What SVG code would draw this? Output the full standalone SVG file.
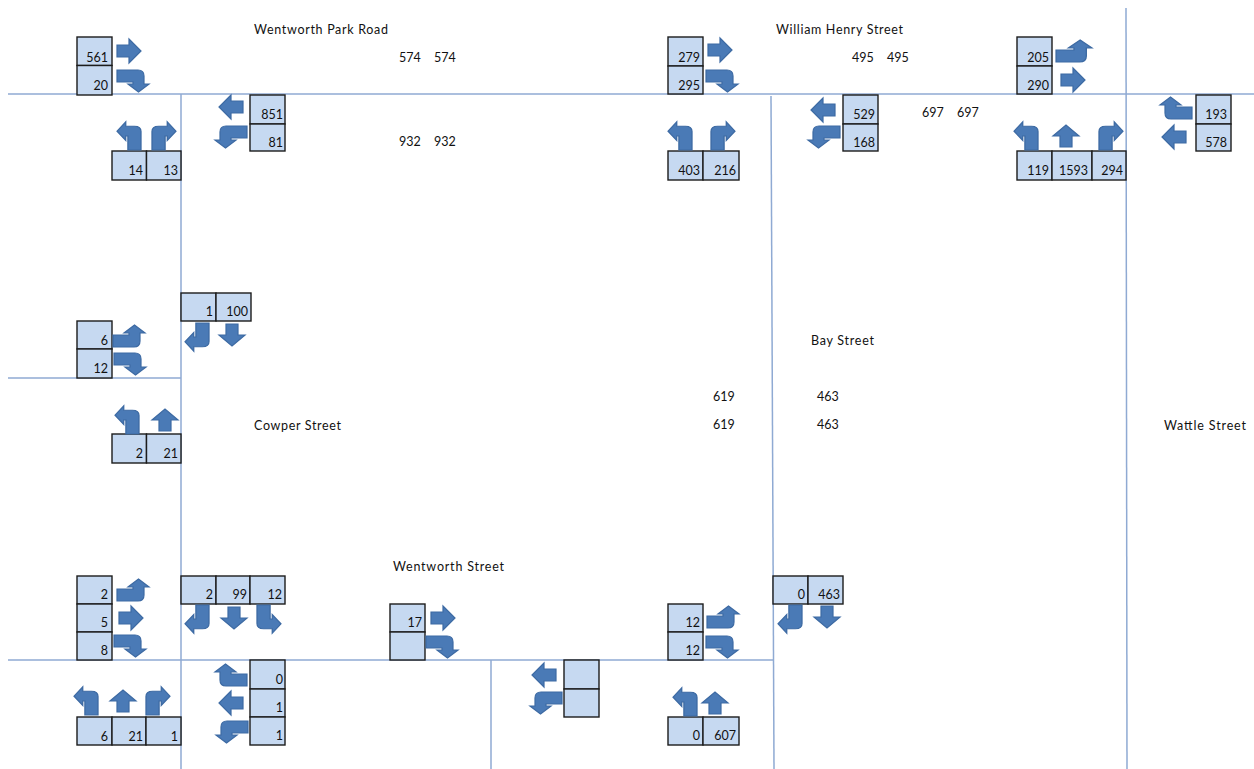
<svg xmlns="http://www.w3.org/2000/svg" width="1254" height="769" viewBox="0 0 1254 769">
<style>
.bg{fill:#fff}
.road{fill:none;stroke:#8faad3;stroke-width:1.5}
.c{fill:#c6d9f1;stroke:#1c1c1c;stroke-width:1.4}
.a{fill:#4a7ab6;stroke:#3d6aa3;stroke-width:1.2}
text{font-family:Lato,"Liberation Sans",sans-serif;font-size:12.5px;fill:#111}
.n{text-anchor:end}
</style>
<defs>
<path id="R" class="a" d="M-12,-6H0V-12L12,0L0,12V6H-12Z"/>
<path id="L" class="a" transform="scale(-1 1)" d="M-12,-6H0V-12L12,0L0,12V6H-12Z"/>
<path id="U" class="a" transform="rotate(-90)" d="M-11,-6H0V-13L11,0L0,13V6H-11Z"/>
<path id="D" class="a" transform="rotate(90)" d="M-11,-6H0V-13L11,0L0,13V6H-11Z"/>
<path id="RD" class="a" d="M-16,-11H5Q11,-11 11,-5V3H16L5.5,11L-5,3H0V1H-16Z"/>
<path id="RU" class="a" transform="scale(1 -1)" d="M-16,-11H5Q11,-11 11,-5V3H16L5.5,11L-5,3H0V1H-16Z"/>
<path id="RUL" class="a" transform="scale(1.12 -1)" d="M-16,-11H5Q11,-11 11,-5V3H16L5.5,11L-5,3H0V1H-16Z"/>
<path id="LD" class="a" transform="scale(-1 1)" d="M-16,-11H5Q11,-11 11,-5V3H16L5.5,11L-5,3H0V1H-16Z"/>
<path id="LU" class="a" transform="scale(-1 -1)" d="M-16,-11H5Q11,-11 11,-5V3H16L5.5,11L-5,3H0V1H-16Z"/>
<path id="UR" class="a" transform="rotate(-90) scale(.88 1.09)" d="M-16,-11H5Q11,-11 11,-5V3H16L5.5,11L-5,3H0V1H-16Z"/>
<path id="UL" class="a" transform="scale(-1 1) rotate(-90) scale(.88 1.09)" d="M-16,-11H5Q11,-11 11,-5V3H16L5.5,11L-5,3H0V1H-16Z"/>
<path id="DL" class="a" transform="rotate(90) scale(.88 1.09)" d="M-16,-11H5Q11,-11 11,-5V3H16L5.5,11L-5,3H0V1H-16Z"/>
<path id="DR" class="a" transform="scale(-1 1) rotate(90) scale(.88 1.09)" d="M-16,-11H5Q11,-11 11,-5V3H16L5.5,11L-5,3H0V1H-16Z"/>
</defs>
<rect class="bg" width="1254" height="769"/>
<g id="roads">
<path class="road" d="M8,94H1254"/>
<path class="road" d="M8,378H181"/>
<path class="road" d="M8,660H773"/>
<path class="road" d="M181,94V769"/>
<path class="road" d="M771,96L774,769"/>
<path class="road" d="M491,660V769"/>
<path class="road" d="M1126,8L1127,769"/>
</g>
<g id="labels">
<text x="254" y="34" textLength="134">Wentworth Park Road</text>
<text x="776" y="34" textLength="127">William Henry Street</text>
<text x="811" y="345" textLength="63">Bay Street</text>
<text x="254" y="430" textLength="87">Cowper Street</text>
<text x="1164" y="430" textLength="82">Wattle Street</text>
<text x="393" y="571" textLength="111">Wentworth Street</text>
<text x="399" y="62">574</text><text x="434" y="62">574</text>
<text x="399" y="146">932</text><text x="434" y="146">932</text>
<text x="852" y="62">495</text><text x="887" y="62">495</text>
<text x="922" y="117">697</text><text x="957" y="117">697</text>
<text x="713" y="401">619</text><text x="713" y="429">619</text>
<text x="817" y="401">463</text><text x="817" y="429">463</text>
</g>
<g id="n1"><rect class="c" x="77" y="37" width="35" height="28.5"/><rect class="c" x="77" y="65.500" width="35" height="29.500"/><text class="n" x="108" y="62">561</text><text class="n" x="108" y="90">20</text><use href="#R" x="129" y="51"/><use href="#RD" x="133" y="81"/></g>
<g id="n2"><rect class="c" x="112" y="151" width="34.500" height="29"/><rect class="c" x="146.500" y="151" width="34.500" height="29"/><text class="n" x="143" y="175">14</text><text class="n" x="178" y="175">13</text><use href="#UL" x="129" y="136"/><use href="#UR" x="164" y="136"/></g>
<g id="n3"><rect class="c" x="250" y="95" width="35" height="29"/><rect class="c" x="250" y="124" width="35" height="27"/><text class="n" x="283" y="119">851</text><text class="n" x="283" y="147">81</text><use href="#L" x="231" y="107"/><use href="#LD" x="231" y="137"/></g>
<g id="n4"><rect class="c" x="181" y="293" width="35" height="28"/><rect class="c" x="216" y="293" width="35" height="28"/><text class="n" x="213" y="316">1</text><text class="n" x="248" y="316">100</text><use href="#DL" x="197" y="337"/><use href="#D" x="232" y="335"/></g>
<g id="n5"><rect class="c" x="77" y="321" width="35" height="28"/><rect class="c" x="77" y="349" width="35" height="29"/><text class="n" x="108" y="345">6</text><text class="n" x="108" y="373">12</text><use href="#RU" x="129" y="336"/><use href="#RD" x="130" y="364"/></g>
<g id="n6"><rect class="c" x="112" y="434" width="34.500" height="29"/><rect class="c" x="146.500" y="434" width="34.500" height="29"/><text class="n" x="143" y="458">2</text><text class="n" x="178" y="458">21</text><use href="#UL" x="127" y="420"/><use href="#U" x="165" y="420"/></g>
<g id="n7"><rect class="c" x="77" y="576" width="35" height="28"/><rect class="c" x="77" y="604" width="35" height="28"/><rect class="c" x="77" y="632" width="35" height="28"/><text class="n" x="108" y="599">2</text><text class="n" x="108" y="627">5</text><text class="n" x="108" y="655">8</text><use href="#RU" x="133" y="590"/><use href="#R" x="131" y="618"/><use href="#RD" x="130" y="646"/></g>
<g id="n8"><rect class="c" x="181" y="576" width="35" height="28"/><rect class="c" x="216" y="576" width="34" height="28"/><rect class="c" x="250" y="576" width="35" height="28"/><text class="n" x="213" y="599">2</text><text class="n" x="247" y="599">99</text><text class="n" x="282" y="599">12</text><use href="#DL" x="197" y="619"/><use href="#D" x="234" y="618"/><use href="#DR" x="269" y="619"/></g>
<g id="n9"><rect class="c" x="390" y="604" width="35" height="28"/><rect class="c" x="390" y="632" width="35" height="28"/><text class="n" x="422" y="627">17</text><use href="#R" x="443" y="618"/><use href="#RD" x="442" y="647"/></g>
<g id="n10"><rect class="c" x="668" y="604" width="35" height="28"/><rect class="c" x="668" y="632" width="35" height="28"/><text class="n" x="700" y="627">12</text><text class="n" x="700" y="655">12</text><use href="#RU" x="723" y="617"/><use href="#RD" x="722" y="647"/></g>
<g id="n11"><rect class="c" x="564" y="660" width="35" height="29"/><rect class="c" x="564" y="689" width="35" height="28"/><use href="#L" x="544" y="675"/><use href="#LD" x="546" y="703"/></g>
<g id="n12"><rect class="c" x="668" y="717" width="35" height="28"/><rect class="c" x="703" y="717" width="36" height="28"/><text class="n" x="700" y="740">0</text><text class="n" x="736" y="740">607</text><use href="#UL" x="685" y="702"/><use href="#U" x="715" y="703"/></g>
<g id="n13"><rect class="c" x="250" y="660" width="35" height="29"/><rect class="c" x="250" y="689" width="35" height="28"/><rect class="c" x="250" y="717" width="35" height="28"/><text class="n" x="283" y="684">0</text><text class="n" x="283" y="712">1</text><text class="n" x="283" y="740">1</text><use href="#LU" x="231" y="675"/><use href="#L" x="231" y="703"/><use href="#LD" x="232" y="732"/></g>
<g id="n14"><rect class="c" x="77" y="717" width="35" height="28"/><rect class="c" x="112" y="717" width="34" height="28"/><rect class="c" x="146" y="717" width="35" height="28"/><text class="n" x="108" y="741">6</text><text class="n" x="143" y="741">21</text><text class="n" x="178" y="741">1</text><use href="#UL" x="86" y="701"/><use href="#U" x="123" y="701"/><use href="#UR" x="158" y="701"/></g>
<g id="n15"><rect class="c" x="773" y="576" width="35" height="28"/><rect class="c" x="808" y="576" width="35" height="28"/><text class="n" x="805" y="599">0</text><text class="n" x="840" y="599">463</text><use href="#DL" x="790" y="619"/><use href="#D" x="827" y="617"/></g>
<g id="n16"><rect class="c" x="668" y="37" width="35" height="29"/><rect class="c" x="668" y="66" width="35" height="28"/><text class="n" x="700" y="62">279</text><text class="n" x="700" y="90">295</text><use href="#R" x="720" y="50"/><use href="#RD" x="722" y="81"/></g>
<g id="n17"><rect class="c" x="668" y="151" width="35" height="29"/><rect class="c" x="703" y="151" width="36" height="29"/><text class="n" x="700" y="175">403</text><text class="n" x="736" y="175">216</text><use href="#UL" x="680" y="136"/><use href="#UR" x="723" y="136"/></g>
<g id="n18"><rect class="c" x="843" y="95" width="35" height="29"/><rect class="c" x="843" y="124" width="35" height="27"/><text class="n" x="875" y="119">529</text><text class="n" x="875" y="147">168</text><use href="#L" x="823" y="110"/><use href="#LD" x="824" y="137"/></g>
<g id="n19"><rect class="c" x="1017" y="37" width="35" height="29"/><rect class="c" x="1017" y="66" width="35" height="28"/><text class="n" x="1049" y="62">205</text><text class="n" x="1049" y="90">290</text><use href="#RUL" x="1074" y="51"/><use href="#R" x="1073" y="80"/></g>
<g id="n20"><rect class="c" x="1017" y="151" width="35" height="29"/><rect class="c" x="1052" y="151" width="40" height="29"/><rect class="c" x="1092" y="151" width="34" height="29"/><text class="n" x="1049" y="175">119</text><text class="n" x="1088" y="175">1593</text><text class="n" x="1123" y="175">294</text><use href="#UL" x="1026" y="136"/><use href="#U" x="1066" y="136"/><use href="#UR" x="1111" y="136"/></g>
<g id="n21"><rect class="c" x="1196" y="95" width="35" height="29"/><rect class="c" x="1196" y="124" width="35" height="27"/><text class="n" x="1227" y="119">193</text><text class="n" x="1227" y="147">578</text><use href="#LU" x="1176" y="108"/><use href="#L" x="1174" y="137"/></g>
</svg>
